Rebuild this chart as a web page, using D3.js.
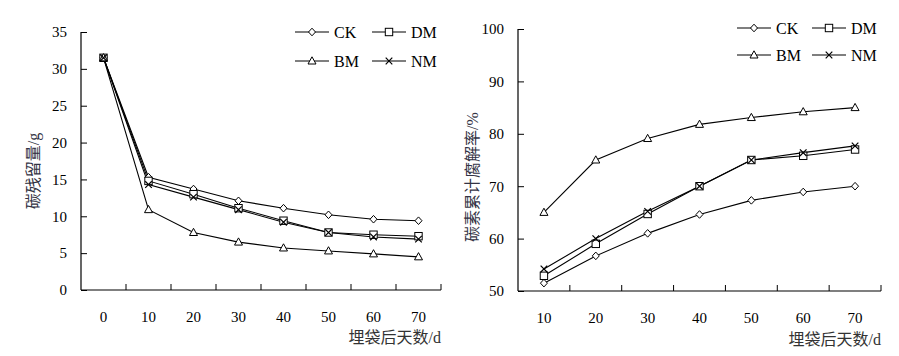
<!DOCTYPE html>
<html><head><meta charset="utf-8">
<script src="https://cdn.jsdelivr.net/npm/d3@7"></script>
<style>body{margin:0;background:#fff}svg{display:block}</style>
</head><body><svg id="c" width="899" height="356"></svg>
<script>
// Left chart: residual carbon (g)
const daysL = ["0","10","20","30","40","50","60","70"];
const ckL = [31.5,15.3,13.7,12.1,11.1,10.2,9.6,9.4];
const dmL = [31.5,14.8,13.0,11.1,9.4,7.8,7.5,7.3];
const bmL = [31.5,10.9,7.8,6.5,5.7,5.3,4.9,4.5];
const nmL = [31.5,14.3,12.6,10.9,9.2,7.8,7.2,6.9];
const yTicksL = [0,5,10,15,20,25,30,35];
// Right chart: cumulative carbon decomposition rate (%)
const daysR = ["10","20","30","40","50","60","70"];
const ckR = [51.5,56.7,61.0,64.6,67.3,68.9,70.0];
const dmR = [52.9,59.0,64.7,70.0,75.0,75.8,77.0];
const bmR = [65.0,75.0,79.1,81.8,83.1,84.2,85.0];
const nmR = [54.2,60.0,65.2,70.0,75.0,76.4,77.7];
const yTicksR = [50,60,70,80,90,100];
const seriesNames = ["CK","DM","BM","NM"];
const markers = ["diamond","square","triangle","cross"];

const svg = d3.select("#c");
const SERIF = '"Liberation Serif","Times New Roman","DejaVu Serif",serif';
const CJK = '"Liberation Serif","Noto Sans CJK SC",serif';

function marker(g, type, x, y){
  if(type==="diamond"){
    g.append("path").attr("d",`M${x},${y-3.8}L${x+3.5},${y}L${x},${y+3.8}L${x-3.5},${y}Z`)
      .attr("fill","#fff").attr("stroke","#000").attr("stroke-width",1);
  } else if(type==="square"){
    g.append("rect").attr("x",x-3.7).attr("y",y-3.7).attr("width",7.4).attr("height",7.4)
      .attr("fill","#fff").attr("stroke","#000").attr("stroke-width",1);
  } else if(type==="triangle"){
    g.append("path").attr("d",`M${x},${y-4.2}L${x+4},${y+3}L${x-4},${y+3}Z`)
      .attr("fill","#fff").attr("stroke","#000").attr("stroke-width",1);
  } else {
    g.append("path").attr("d",`M${x-3.3},${y-3.3}L${x+3.3},${y+3.3}M${x+3.3},${y-3.3}L${x-3.3},${y+3.3}`)
      .attr("stroke","#000").attr("stroke-width",1.2);
  }
}

function chart(cfg){
  const g = svg.append("g");
  const x = d3.scaleBand().domain(cfg.cats).range([cfg.x0,cfg.x1]).padding(0);
  const y = d3.scaleLinear().domain(cfg.ydom).range([cfg.y0,cfg.y1]);
  const xa = g.append("g").attr("transform",`translate(0,${cfg.y0})`)
    .call(d3.axisBottom(x).tickSize(0).tickPadding(21).tickFormat(d=>d));
  xa.select(".domain").attr("stroke","#000").attr("stroke-width",1.2).attr("d",`M${cfg.x0},0H${cfg.x1}`);
  xa.selectAll("text").attr("font-size",15).attr("fill","#000").style("font-family",SERIF);
  const bounds = cfg.cats.map(c=>x(c)+x.bandwidth());
  g.append("g").selectAll("line").data(bounds).join("line")
    .attr("x1",d=>d).attr("x2",d=>d).attr("y1",cfg.y0).attr("y2",cfg.y0-6)
    .attr("stroke","#000").attr("stroke-width",1);
  const ya = g.append("g").attr("transform",`translate(${cfg.x0},0)`)
    .call(d3.axisLeft(y).tickValues(cfg.yticks).tickSize(-6).tickPadding(14));
  ya.select(".domain").attr("stroke","#000").attr("stroke-width",1.2).attr("d",`M0,${cfg.y0}V${cfg.y1}`);
  ya.selectAll("line").attr("stroke","#000");
  ya.selectAll("text").attr("font-size",15).attr("fill","#000").style("font-family",SERIF);
  const line = d3.line().x((d,i)=>x(cfg.cats[i])+x.bandwidth()/2).y(d=>y(d));
  cfg.series.forEach(s=>{
    g.append("path").datum(s).attr("d",line).attr("fill","none").attr("stroke","#000").attr("stroke-width",1.1);
  });
  cfg.series.forEach((s,k)=>{
    s.forEach((v,i)=>marker(g,markers[k],x(cfg.cats[i])+x.bandwidth()/2,y(v)));
  });
  seriesNames.forEach((n,k)=>{
    const col = k%2, row = Math.floor(k/2);
    const lx = cfg.leg[col], ly = cfg.legY[row];
    g.append("line").attr("x1",lx).attr("x2",lx+34).attr("y1",ly).attr("y2",ly).attr("stroke","#000").attr("stroke-width",1.1);
    marker(g,markers[k],lx+17,ly);
    g.append("text").attr("x",lx+39).attr("y",ly).attr("dy","0.35em").attr("font-size",16).attr("fill","#000")
      .style("font-family",SERIF).text(n);
  });
  g.append("text").attr("x",cfg.x1).attr("y",cfg.xtY).attr("text-anchor","end").attr("dy","0.35em")
    .attr("font-size",16).attr("fill","#333").style("font-family",CJK).text("埋袋后天数/d");
  g.append("text").attr("transform",`translate(${cfg.ytX},${cfg.ytY}) rotate(-90)`).attr("text-anchor","middle").attr("dy","0.35em")
    .attr("font-size",16).attr("fill","#334").style("font-family",CJK).text(cfg.ytitle);
}

chart({cats:daysL, ydom:[0,35], yticks:yTicksL, x0:81, x1:441, y0:290, y1:32,
  series:[ckL,dmL,bmL,nmL], leg:[295,372], legY:[32,61], xtY:337, ytX:33, ytY:171, ytitle:"碳残留量/g"});
chart({cats:daysR, ydom:[50,100], yticks:yTicksR, x0:518, x1:881, y0:291, y1:29,
  series:[ckR,dmR,bmR,nmR], leg:[737,812], legY:[28,55], xtY:339, ytX:472, ytY:177, ytitle:"碳素累计腐解率/%"});
</script></body></html>
